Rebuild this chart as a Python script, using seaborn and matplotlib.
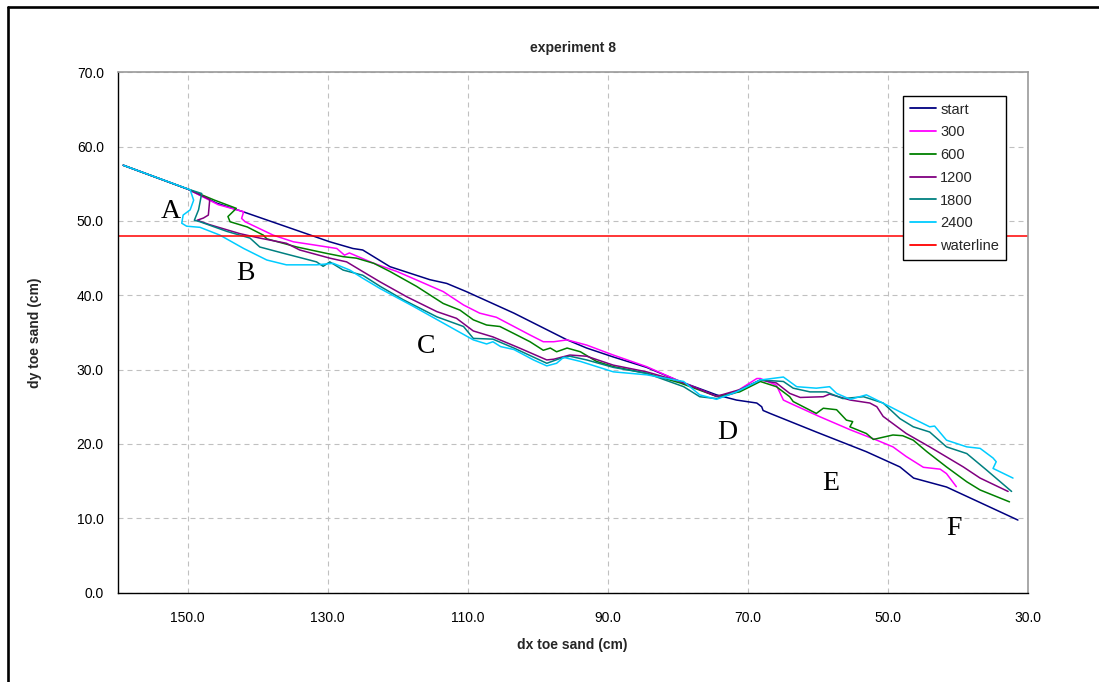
import matplotlib
matplotlib.use("Agg")
import matplotlib.pyplot as plt
import numpy as np
import pandas as pd
import seaborn as sns
from matplotlib.lines import Line2D
from matplotlib.ticker import FormatStrFormatter, FixedLocator

# Toe profiles: dx (cm) and dy (cm) for each measurement time
start_x = [159.2, 150.0, 145.85, 142.1, 129.7, 126.4, 125.0, 121.1, 115.4, 113.0, 110.2, 103.4,
           95.8, 93.0, 89.2, 84.45, 79.65, 74.45, 71.6, 68.7, 68.0, 67.8, 66.8, 60.2, 53.05,
           48.25, 46.3, 41.6, 31.4]
start_y = [57.5, 54.3, 52.4, 51.25, 47.2, 46.3, 46.1, 43.85, 42.1, 41.6, 40.5, 37.6,
           34.0, 32.9, 31.7, 30.3, 28.4, 26.6, 25.9, 25.5, 25.0, 24.5, 24.1, 21.6, 18.95,
           16.9, 15.4, 14.2, 9.75]

t300_x = [159.2, 150.0, 145.65, 142.0, 142.3, 141.8, 137.8, 134.9, 132.1, 128.7, 127.6, 126.9,
          123.4, 120.1, 117.3, 113.5, 110.6, 108.3, 105.9, 101.1, 99.2, 97.7, 95.8, 93.0, 89.2,
          84.45, 79.65, 74.45, 72.05, 68.7, 68.2, 65.9, 64.9, 64.0, 59.7, 55.35, 51.55, 49.25,
          47.35, 44.9, 42.5, 41.6, 40.2]
t300_y = [57.5, 54.3, 52.2, 51.25, 50.35, 49.9, 48.1, 47.2, 46.8, 46.3, 45.4, 45.7,
          44.3, 43.2, 42.06, 40.5, 38.7, 37.6, 37.04, 34.66, 33.75, 33.75, 34.0, 33.3, 31.96,
          30.4, 28.4, 26.4, 26.8, 28.8, 28.8, 27.9, 25.9, 25.5, 23.66, 21.9, 20.5, 19.6,
          18.3, 16.85, 16.6, 16.0, 14.25]

t600_x = [159.2, 150.0, 146.15, 143.05, 144.25, 143.95, 141.5, 139.2, 138.7, 134.4, 130.2, 127.8,
          125.9, 123.4, 121.1, 117.3, 113.5, 111.1, 109.2, 107.3, 105.4, 103.5, 101.1, 99.2,
          98.2, 97.3, 95.8, 93.9, 91.6, 89.2, 84.45, 79.65, 74.45, 71.15, 68.2, 65.9, 64.0,
          63.5, 60.2, 59.2, 57.3, 55.9, 55.0, 55.4, 53.05, 52.05, 49.25, 47.85, 46.35, 44.4,
          41.6, 38.7, 36.8, 32.6]
t600_y = [57.5, 54.3, 52.8, 51.7, 50.6, 49.9, 49.2, 48.1, 47.6, 46.5, 45.65, 45.2,
          45.0, 44.3, 43.2, 41.2, 38.9, 38.0, 36.7, 36.0, 35.8, 34.9, 33.75, 32.6,
          32.9, 32.4, 32.9, 32.4, 31.1, 30.4, 29.5, 28.2, 26.4, 27.0, 28.4, 27.7, 26.35,
          25.7, 24.1, 24.8, 24.6, 23.2, 23.0, 22.3, 21.4, 20.6, 21.2, 21.1, 20.5, 18.95,
          16.9, 14.9, 13.8, 12.2]

t1200_x = [159.2, 150.0, 146.85, 147.05, 147.75, 148.65, 146.85, 142.55, 139.7, 135.9, 134.0,
           129.7, 127.3, 125.0, 122.5, 118.7, 114.4, 111.6, 109.2, 106.4, 102.6, 98.7, 97.7,
           95.4, 93.0, 89.2, 84.45, 79.65, 74.45, 71.15, 68.2, 65.9, 64.0, 62.5, 59.2, 58.3,
           55.35, 52.55, 51.55, 50.65, 47.35, 44.0, 39.2, 36.8, 32.8]
t1200_y = [57.5, 54.3, 52.9, 50.8, 50.4, 50.1, 49.5, 48.3, 47.7, 47.0, 46.1,
           45.0, 44.5, 43.2, 41.8, 39.8, 37.8, 36.9, 35.2, 34.4, 32.9, 31.3, 31.4,
           31.96, 31.8, 30.6, 29.7, 28.4, 26.4, 27.3, 28.6, 28.2, 26.8, 26.25, 26.35, 26.7,
           25.9, 25.5, 25.0, 23.7, 21.4, 19.6, 16.9, 15.4, 13.6]

t1800_x = [159.2, 150.0, 148.0, 148.45, 149.05, 148.25, 144.4, 141.1, 139.7, 136.3, 131.6,
           130.65, 129.7, 127.8, 125.0, 122.5, 119.2, 114.4, 110.6, 109.2, 106.4, 103.4, 98.7,
           96.8, 95.4, 93.0, 89.2, 84.45, 79.15, 76.85, 74.45, 72.05, 68.2, 64.9, 63.5, 61.1,
           58.8, 56.4, 53.45, 50.65, 48.25, 46.35, 44.0, 41.6, 38.7, 35.9, 32.3]
t1800_y = [57.5, 54.3, 53.7, 51.5, 50.1, 49.9, 48.6, 47.7, 46.5, 45.65, 44.5,
           43.9, 44.5, 43.4, 42.7, 41.2, 39.4, 37.1, 35.8, 34.2, 34.1, 32.9, 30.85,
           31.5, 31.8, 31.3, 30.3, 29.5, 27.7, 26.35, 26.1, 26.8, 28.6, 28.4, 27.5, 27.0,
           27.0, 26.1, 26.35, 25.5, 23.4, 22.3, 21.6, 19.6, 18.7, 16.5, 13.6]

t2400_x = [159.2, 149.65, 149.15, 149.65, 150.65, 150.85, 150.15, 148.25, 145.4, 142.0, 138.7,
           135.9, 131.6, 129.2, 126.85, 125.0, 122.5, 117.75, 113.0, 109.2, 107.3, 106.4, 105.3,
           103.4, 100.6, 98.7, 97.3, 96.3, 93.9, 89.2, 84.45, 79.15, 76.85, 74.45, 71.6, 68.2,
           64.9, 63.0, 60.2, 58.3, 57.3, 55.35, 53.05, 51.55, 49.65, 46.35, 44.0, 43.3, 41.6,
           38.7, 36.8, 34.95, 34.5, 34.95, 32.1]
t2400_y = [57.5, 54.2, 52.8, 51.5, 50.8, 49.7, 49.3, 49.15, 48.1, 46.3, 44.75,
           44.1, 44.1, 44.3, 43.4, 42.3, 40.9, 38.5, 36.0, 34.0, 33.45, 33.75, 33.1,
           32.7, 31.3, 30.5, 30.85, 31.65, 31.1, 29.7, 29.3, 28.4, 26.6, 26.0, 27.0, 28.6,
           29.0, 27.7, 27.5, 27.7, 26.8, 26.0, 26.6, 25.9, 25.0, 23.4, 22.3, 22.4, 20.5,
           19.6, 19.4, 18.1, 17.6, 16.7, 15.4]

waterline_x = [160.0, 30.0]
waterline_y = [48.0, 48.0]

series_names = ["start", "300", "600", "1200", "1800", "2400", "waterline"]
series_colors = ["#000080", "#FF00FF", "#008000", "#800080", "#008080", "#00CCFF", "#FF0000"]
series_data = [(start_x, start_y), (t300_x, t300_y), (t600_x, t600_y), (t1200_x, t1200_y),
               (t1800_x, t1800_y), (t2400_x, t2400_y), (waterline_x, waterline_y)]

x_ticks = [150, 130, 110, 90, 70, 50, 30]
y_ticks = [0, 10, 20, 30, 40, 50, 60, 70]

frames = []
for name, (xs, ys) in zip(series_names, series_data):
    frames.append(pd.DataFrame({"dx": xs, "dy": ys, "series": name}))
df = pd.concat(frames, ignore_index=True)

sns.set_style("white")
plt.rcParams["font.family"] = ["Liberation Sans", "DejaVu Sans"]

fig = plt.figure(figsize=(10.99, 6.82), dpi=100)
ax = fig.add_axes([117.7 / 1099, 1 - 592.5 / 682, 910 / 1099, 520.1 / 682])

sns.lineplot(data=df, x="dx", y="dy", hue="series", hue_order=series_names,
             palette=dict(zip(series_names, series_colors)), sort=False, estimator=None,
             linewidth=1.1, legend=False, ax=ax)

ax.set_xlim(160, 30)
ax.set_ylim(0, 70)
ax.xaxis.set_major_locator(FixedLocator(x_ticks))
ax.yaxis.set_major_locator(FixedLocator(y_ticks))
ax.xaxis.set_major_formatter(FormatStrFormatter("%.1f"))
ax.yaxis.set_major_formatter(FormatStrFormatter("%.1f"))
ax.tick_params(axis="both", which="major", direction="out", length=4, width=1,
               color="black", labelsize=10, labelcolor="black", pad=6)
ax.tick_params(axis="x", pad=9)

ax.grid(True, color="#c0c0c0", linestyle=(0, (4.5, 3.6)), linewidth=0.8)
ax.set_axisbelow(True)

for side in ["left", "bottom"]:
    ax.spines[side].set_color("black")
    ax.spines[side].set_linewidth(1.0)
for side in ["top", "right"]:
    ax.spines[side].set_color("#9a9a9a")
    ax.spines[side].set_linewidth(1.2)
    ax.spines[side].set_visible(True)

ax.set_title("experiment 8", fontsize=10, fontweight="bold", pad=15)
ax.set_xlabel("dx toe sand (cm)", fontsize=10, fontweight="bold", labelpad=10)
ax.set_ylabel("dy toe sand (cm)", fontsize=10, fontweight="bold", labelpad=25)

handles = [Line2D([0], [0], color=c, lw=1.3) for c in series_colors]
leg = ax.legend(handles, series_names, loc="upper left", bbox_to_anchor=(0.863, 0.9546),
                borderaxespad=0, frameon=True, fancybox=False, framealpha=1,
                edgecolor="black", fontsize=10.5, handlelength=1.8, handletextpad=0.3,
                labelspacing=0.6, borderpad=0.45)
leg.get_frame().set_linewidth(1.0)

# Zone labels along the profile
zone_labels = [("A", 152.4, 50.42), ("B", 141.8, 42.1), ("C", 115.96, 32.3),
               ("D", 72.9, 20.6), ("E", 58.2, 13.8), ("F", 40.5, 7.7)]
for letter, lx, ly in zone_labels:
    ax.text(lx, ly, letter, fontsize=20, family=["Liberation Serif", "DejaVu Serif"],
            ha="center", va="baseline", color="black")

# Page frame around the chart object
fig.add_artist(Line2D([8 / 1099, 1.0], [1 - 7 / 682, 1 - 7 / 682], transform=fig.transFigure,
                      color="black", lw=1.9))
fig.add_artist(Line2D([8 / 1099, 8 / 1099], [0.0, 1 - 7 / 682], transform=fig.transFigure,
                      color="black", lw=1.9))

fig.savefig("out.png", dpi=100)
